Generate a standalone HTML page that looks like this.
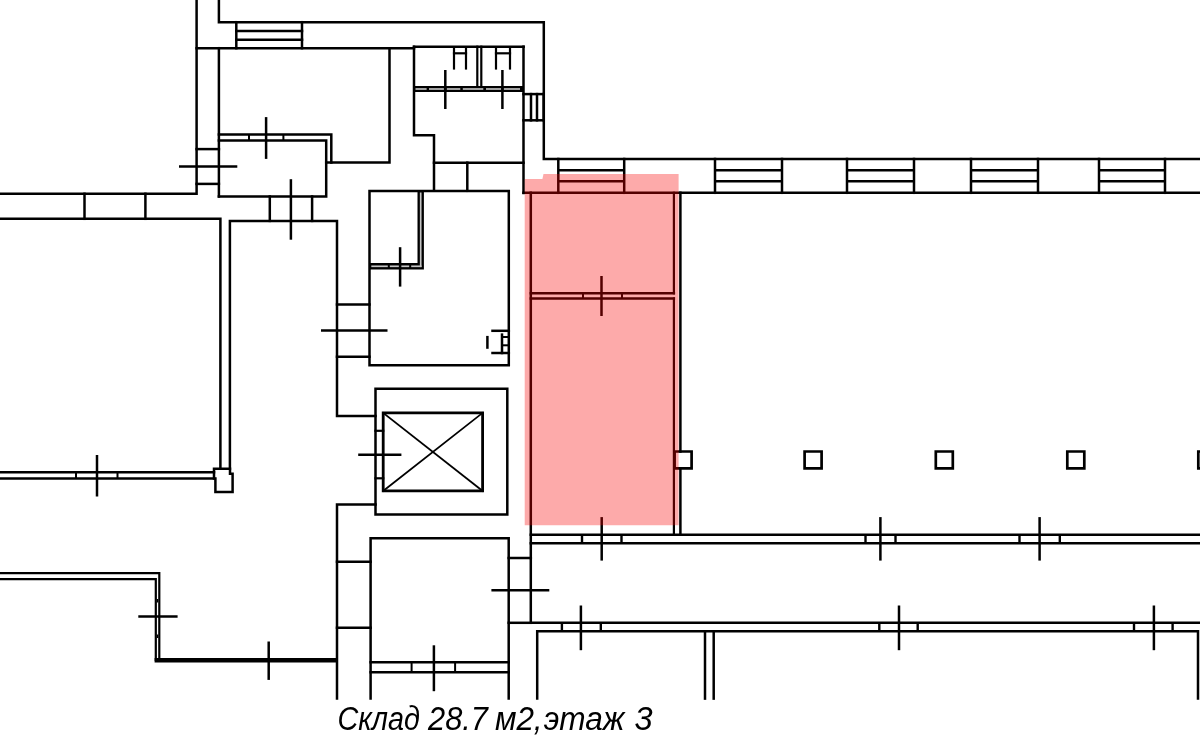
<!DOCTYPE html>
<html><head><meta charset="utf-8"><style>
html,body{margin:0;padding:0;background:#fff;}
body{width:1200px;height:745px;overflow:hidden;position:relative;}
svg{position:absolute;left:0;top:0;}
</style></head><body>
<svg width="1200" height="745" viewBox="0 0 1200 745" stroke-linecap="square" stroke-linejoin="miter">
<path d="M0,193.8 L196.6,193.8 L196.6,-3" stroke="#000" stroke-width="2.5" fill="none"/>
<path d="M218.9,-3 L218.9,22.2 L543.8,22.2 L543.8,159 L1203,159" stroke="#000" stroke-width="2.5" fill="none"/>
<path d="M218.9,134.4 L331.3,134.4 L331.3,162.5" stroke="#000" stroke-width="2.5" fill="none"/>
<path d="M326.2,162.5 L389.5,162.5 L389.5,48.2" stroke="#000" stroke-width="2.5" fill="none"/>
<path d="M218.9,140.5 L326.2,140.5 L326.2,196.5 L218.9,196.5" stroke="#000" stroke-width="2.5" fill="none"/>
<path d="M0,218.8 L220.4,218.8 L220.4,468.8" stroke="#000" stroke-width="2.5" fill="none"/>
<path d="M229.9,468.8 L229.9,220.9 L337,220.9 L337,416.1 L375.5,416.1" stroke="#000" stroke-width="2.5" fill="none"/>
<path d="M414,46.7 L414,135.3 L434,135.3 L434,190.8" stroke="#000" stroke-width="2.5" fill="none"/>
<path d="M369.5,191.1 L508.8,191.1 L508.8,365.3 L369.5,365.3 L369.5,191.1" stroke="#000" stroke-width="2.5" fill="none"/>
<path d="M369.5,266.3 L420.7,266.3 L420.7,191.1" stroke="#000" stroke-width="6.4" fill="none" stroke-linecap="butt"/>
<path d="M375.5,388.8 L507.3,388.8 L507.3,514.4 L375.5,514.4 L375.5,388.8" stroke="#000" stroke-width="2.5" fill="none"/>
<path d="M383.2,412.9 L482.6,412.9 L482.6,490.9 L383.2,490.9 L383.2,412.9" stroke="#000" stroke-width="2.8" fill="none"/>
<path d="M337,698.6 L337,504.6 L375.5,504.6" stroke="#000" stroke-width="2.5" fill="none"/>
<path d="M370.6,698.6 L370.6,538.3 L508.7,538.3 L508.7,698.6" stroke="#000" stroke-width="2.5" fill="none"/>
<path d="M508.7,558.1 L530.8,558.1 L530.8,622.8 L1203,622.8" stroke="#000" stroke-width="2.5" fill="none"/>
<path d="M537.2,698.6 L537.2,631.3 L1198,631.3 L1198,698.6" stroke="#000" stroke-width="2.5" fill="none"/>
<path d="M674.6,451.5 L691.6,451.5 L691.6,468.3 L674.6,468.3 L674.6,451.5" stroke="#000" stroke-width="2.7" fill="none"/>
<path d="M804.6,451.5 L821.6,451.5 L821.6,468.3 L804.6,468.3 L804.6,451.5" stroke="#000" stroke-width="2.7" fill="none"/>
<path d="M935.8,451.5 L952.8,451.5 L952.8,468.3 L935.8,468.3 L935.8,451.5" stroke="#000" stroke-width="2.7" fill="none"/>
<path d="M1067.3,451.5 L1084.3,451.5 L1084.3,468.3 L1067.3,468.3 L1067.3,451.5" stroke="#000" stroke-width="2.7" fill="none"/>
<path d="M1198.3,451.5 L1215.3,451.5 L1215.3,468.3 L1198.3,468.3 L1198.3,451.5" stroke="#000" stroke-width="2.7" fill="none"/>
<path d="M214,468.8 L230,468.8 L230,473.7 L232.6,473.7 L232.6,492.1 L215.4,492.1 L215.4,478.6 L214,478.6 L214,468.8" stroke="#000" stroke-width="2.5" fill="none"/>
<path d="M0,573.1 L159.3,573.1 L159.3,658" stroke="#000" stroke-width="2.2" fill="none"/>
<path d="M0,579.2 L155.8,579.2 L155.8,660" stroke="#000" stroke-width="2.2" fill="none"/>
<line x1="196.6" y1="48.2" x2="414" y2="48.2" stroke="#000" stroke-width="2.5"/>
<line x1="236.3" y1="22.2" x2="236.3" y2="48.2" stroke="#000" stroke-width="2.5"/>
<line x1="302" y1="22.2" x2="302" y2="48.2" stroke="#000" stroke-width="2.5"/>
<line x1="236.3" y1="31.1" x2="302" y2="31.1" stroke="#000" stroke-width="2.5"/>
<line x1="236.3" y1="39.8" x2="302" y2="39.8" stroke="#000" stroke-width="2.5"/>
<line x1="218.9" y1="48.2" x2="218.9" y2="196.5" stroke="#000" stroke-width="2.5"/>
<line x1="196.6" y1="149.1" x2="218.9" y2="149.1" stroke="#000" stroke-width="2.5"/>
<line x1="196.6" y1="183.9" x2="218.9" y2="183.9" stroke="#000" stroke-width="2.5"/>
<line x1="249" y1="134.4" x2="249" y2="140.5" stroke="#000" stroke-width="2" stroke-linecap="butt"/>
<line x1="283.4" y1="134.4" x2="283.4" y2="140.5" stroke="#000" stroke-width="2" stroke-linecap="butt"/>
<line x1="179" y1="166.4" x2="237.3" y2="166.4" stroke="#000" stroke-width="2.5" stroke-linecap="butt"/>
<line x1="266.1" y1="117.1" x2="266.1" y2="158.9" stroke="#000" stroke-width="2.5" stroke-linecap="butt"/>
<line x1="290.9" y1="179.2" x2="290.9" y2="239.7" stroke="#000" stroke-width="2.5" stroke-linecap="butt"/>
<line x1="269.8" y1="196.5" x2="269.8" y2="220.9" stroke="#000" stroke-width="2.5"/>
<line x1="312.1" y1="196.5" x2="312.1" y2="220.9" stroke="#000" stroke-width="2.5"/>
<line x1="84.5" y1="193.8" x2="84.5" y2="218.8" stroke="#000" stroke-width="2.5"/>
<line x1="145.4" y1="193.8" x2="145.4" y2="218.8" stroke="#000" stroke-width="2.5"/>
<line x1="414" y1="46.7" x2="523.6" y2="46.7" stroke="#000" stroke-width="2.5"/>
<line x1="523.5" y1="46.7" x2="523.5" y2="193" stroke="#000" stroke-width="2.5"/>
<line x1="434" y1="162.7" x2="523.5" y2="162.7" stroke="#000" stroke-width="2.5"/>
<line x1="467.3" y1="162.7" x2="467.3" y2="190.8" stroke="#000" stroke-width="2.5"/>
<line x1="477.3" y1="46.7" x2="477.3" y2="86.8" stroke="#000" stroke-width="2.2"/>
<line x1="481.3" y1="46.7" x2="481.3" y2="86.8" stroke="#000" stroke-width="2.2"/>
<line x1="414" y1="89" x2="523.6" y2="89" stroke="#000" stroke-width="6.2" stroke-linecap="butt"/>
<line x1="415.5" y1="89" x2="426.6" y2="89" stroke="#b4b4b4" stroke-width="1.8" stroke-linecap="butt"/>
<line x1="429" y1="89" x2="443.9" y2="89" stroke="#b4b4b4" stroke-width="1.8" stroke-linecap="butt"/>
<line x1="446.7" y1="89" x2="460.3" y2="89" stroke="#b4b4b4" stroke-width="1.8" stroke-linecap="butt"/>
<line x1="462.8" y1="89" x2="483.3" y2="89" stroke="#b4b4b4" stroke-width="1.8" stroke-linecap="butt"/>
<line x1="486" y1="89" x2="501.2" y2="89" stroke="#b4b4b4" stroke-width="1.8" stroke-linecap="butt"/>
<line x1="503.7" y1="89" x2="520" y2="89" stroke="#b4b4b4" stroke-width="1.8" stroke-linecap="butt"/>
<line x1="454" y1="48" x2="454" y2="68.5" stroke="#000" stroke-width="2.2"/>
<line x1="466" y1="48" x2="466" y2="68.5" stroke="#000" stroke-width="2.2"/>
<line x1="454" y1="53.3" x2="466" y2="53.3" stroke="#000" stroke-width="2.2"/>
<line x1="496" y1="48" x2="496" y2="68.5" stroke="#000" stroke-width="2.2"/>
<line x1="510" y1="48" x2="510" y2="68.5" stroke="#000" stroke-width="2.2"/>
<line x1="496" y1="53.3" x2="510" y2="53.3" stroke="#000" stroke-width="2.2"/>
<line x1="445.3" y1="70" x2="445.3" y2="109" stroke="#000" stroke-width="2.5" stroke-linecap="butt"/>
<line x1="502.4" y1="70" x2="502.4" y2="109" stroke="#000" stroke-width="2.5" stroke-linecap="butt"/>
<line x1="543.7" y1="94" x2="543.7" y2="120.3" stroke="#000" stroke-width="2.5"/>
<line x1="523.5" y1="94.1" x2="543.7" y2="94.1" stroke="#000" stroke-width="2.5"/>
<line x1="523.5" y1="120.3" x2="543.7" y2="120.3" stroke="#000" stroke-width="2.5"/>
<line x1="531" y1="94.1" x2="531" y2="120.3" stroke="#000" stroke-width="2.5"/>
<line x1="537" y1="94.1" x2="537" y2="120.3" stroke="#000" stroke-width="2.5"/>
<line x1="523.5" y1="192.8" x2="1203" y2="192.8" stroke="#000" stroke-width="2.5"/>
<line x1="558.3" y1="159" x2="558.3" y2="192.8" stroke="#000" stroke-width="2.5"/>
<line x1="624.2" y1="159" x2="624.2" y2="192.8" stroke="#000" stroke-width="2.5"/>
<line x1="558.3" y1="170.3" x2="624.2" y2="170.3" stroke="#000" stroke-width="2.5" stroke-linecap="butt"/>
<line x1="558.3" y1="181.2" x2="624.2" y2="181.2" stroke="#000" stroke-width="2.5" stroke-linecap="butt"/>
<line x1="715" y1="159" x2="715" y2="192.8" stroke="#000" stroke-width="2.5"/>
<line x1="782" y1="159" x2="782" y2="192.8" stroke="#000" stroke-width="2.5"/>
<line x1="715" y1="170.3" x2="782" y2="170.3" stroke="#000" stroke-width="2.5" stroke-linecap="butt"/>
<line x1="715" y1="181.2" x2="782" y2="181.2" stroke="#000" stroke-width="2.5" stroke-linecap="butt"/>
<line x1="847" y1="159" x2="847" y2="192.8" stroke="#000" stroke-width="2.5"/>
<line x1="914" y1="159" x2="914" y2="192.8" stroke="#000" stroke-width="2.5"/>
<line x1="847" y1="170.3" x2="914" y2="170.3" stroke="#000" stroke-width="2.5" stroke-linecap="butt"/>
<line x1="847" y1="181.2" x2="914" y2="181.2" stroke="#000" stroke-width="2.5" stroke-linecap="butt"/>
<line x1="971" y1="159" x2="971" y2="192.8" stroke="#000" stroke-width="2.5"/>
<line x1="1038" y1="159" x2="1038" y2="192.8" stroke="#000" stroke-width="2.5"/>
<line x1="971" y1="170.3" x2="1038" y2="170.3" stroke="#000" stroke-width="2.5" stroke-linecap="butt"/>
<line x1="971" y1="181.2" x2="1038" y2="181.2" stroke="#000" stroke-width="2.5" stroke-linecap="butt"/>
<line x1="1099" y1="159" x2="1099" y2="192.8" stroke="#000" stroke-width="2.5"/>
<line x1="1165" y1="159" x2="1165" y2="192.8" stroke="#000" stroke-width="2.5"/>
<line x1="1099" y1="170.3" x2="1165" y2="170.3" stroke="#000" stroke-width="2.5" stroke-linecap="butt"/>
<line x1="1099" y1="181.2" x2="1165" y2="181.2" stroke="#000" stroke-width="2.5" stroke-linecap="butt"/>
<line x1="371.3" y1="266.3" x2="387.8" y2="266.3" stroke="#c4c4c4" stroke-width="1.7" stroke-linecap="butt"/>
<line x1="389.8" y1="266.3" x2="409.2" y2="266.3" stroke="#c4c4c4" stroke-width="1.7" stroke-linecap="butt"/>
<line x1="411.2" y1="266.3" x2="421.5" y2="266.3" stroke="#c4c4c4" stroke-width="1.7" stroke-linecap="butt"/>
<line x1="420.7" y1="192.5" x2="420.7" y2="267.1" stroke="#c4c4c4" stroke-width="1.7" stroke-linecap="butt"/>
<line x1="400.1" y1="247.2" x2="400.1" y2="286.6" stroke="#000" stroke-width="2.5" stroke-linecap="butt"/>
<line x1="337" y1="304.4" x2="369.5" y2="304.4" stroke="#000" stroke-width="2.5"/>
<line x1="337" y1="356.8" x2="369.5" y2="356.8" stroke="#000" stroke-width="2.5"/>
<line x1="321" y1="330.6" x2="387.5" y2="330.6" stroke="#000" stroke-width="2.5" stroke-linecap="butt"/>
<line x1="492.5" y1="330.8" x2="508.8" y2="330.8" stroke="#000" stroke-width="2.5"/>
<line x1="492.5" y1="353" x2="508.8" y2="353" stroke="#000" stroke-width="2.5"/>
<line x1="502" y1="334.6" x2="502" y2="353" stroke="#000" stroke-width="2.5"/>
<line x1="502" y1="337" x2="508.8" y2="337" stroke="#000" stroke-width="2"/>
<line x1="502" y1="345.3" x2="508.8" y2="345.3" stroke="#000" stroke-width="2"/>
<line x1="487.4" y1="335.9" x2="487.4" y2="348.8" stroke="#000" stroke-width="2.5" stroke-linecap="butt"/>
<line x1="383.2" y1="412.9" x2="482.6" y2="490.9" stroke="#000" stroke-width="1.8"/>
<line x1="482.6" y1="412.9" x2="383.2" y2="490.9" stroke="#000" stroke-width="1.8"/>
<line x1="375.5" y1="430.8" x2="383.2" y2="430.8" stroke="#000" stroke-width="2.2"/>
<line x1="375.5" y1="478.3" x2="383.2" y2="478.3" stroke="#000" stroke-width="2.2"/>
<line x1="358.2" y1="454.8" x2="401.4" y2="454.8" stroke="#000" stroke-width="2.5" stroke-linecap="butt"/>
<line x1="337" y1="561.7" x2="370.6" y2="561.7" stroke="#000" stroke-width="2.5"/>
<line x1="337" y1="627.7" x2="370.6" y2="627.7" stroke="#000" stroke-width="2.5"/>
<line x1="370.6" y1="662.2" x2="508.7" y2="662.2" stroke="#000" stroke-width="2.5"/>
<line x1="370.6" y1="672.3" x2="508.7" y2="672.3" stroke="#000" stroke-width="2.5"/>
<line x1="411.6" y1="662.2" x2="411.6" y2="672.3" stroke="#000" stroke-width="2" stroke-linecap="butt"/>
<line x1="455.1" y1="662.2" x2="455.1" y2="672.3" stroke="#000" stroke-width="2" stroke-linecap="butt"/>
<line x1="433.9" y1="645.3" x2="433.9" y2="691.2" stroke="#000" stroke-width="2.5" stroke-linecap="butt"/>
<line x1="508.7" y1="622.8" x2="530.8" y2="622.8" stroke="#000" stroke-width="2.5"/>
<line x1="530.8" y1="192.8" x2="530.8" y2="558.1" stroke="#000" stroke-width="2.5"/>
<line x1="561.9" y1="622.8" x2="561.9" y2="631.3" stroke="#000" stroke-width="2.4" stroke-linecap="butt"/>
<line x1="600.8" y1="622.8" x2="600.8" y2="631.3" stroke="#000" stroke-width="2.4" stroke-linecap="butt"/>
<line x1="879.3" y1="622.8" x2="879.3" y2="631.3" stroke="#000" stroke-width="2.4" stroke-linecap="butt"/>
<line x1="917.7" y1="622.8" x2="917.7" y2="631.3" stroke="#000" stroke-width="2.4" stroke-linecap="butt"/>
<line x1="1134" y1="622.8" x2="1134" y2="631.3" stroke="#000" stroke-width="2.4" stroke-linecap="butt"/>
<line x1="1172.6" y1="622.8" x2="1172.6" y2="631.3" stroke="#000" stroke-width="2.4" stroke-linecap="butt"/>
<line x1="491.4" y1="590.2" x2="549.3" y2="590.2" stroke="#000" stroke-width="2.5" stroke-linecap="butt"/>
<line x1="580.9" y1="605.5" x2="580.9" y2="650.2" stroke="#000" stroke-width="2.5" stroke-linecap="butt"/>
<line x1="899" y1="605.5" x2="899" y2="650.2" stroke="#000" stroke-width="2.5" stroke-linecap="butt"/>
<line x1="1153.9" y1="605.5" x2="1153.9" y2="650.2" stroke="#000" stroke-width="2.5" stroke-linecap="butt"/>
<line x1="705" y1="631.3" x2="705" y2="698.6" stroke="#000" stroke-width="2.5"/>
<line x1="713.7" y1="631.3" x2="713.7" y2="698.6" stroke="#000" stroke-width="2.5"/>
<line x1="530.8" y1="534.7" x2="1203" y2="534.7" stroke="#000" stroke-width="2.5"/>
<line x1="530.8" y1="543.2" x2="1203" y2="543.2" stroke="#000" stroke-width="2.5"/>
<line x1="582" y1="534.7" x2="582" y2="543.2" stroke="#000" stroke-width="2.4" stroke-linecap="butt"/>
<line x1="621.5" y1="534.7" x2="621.5" y2="543.2" stroke="#000" stroke-width="2.4" stroke-linecap="butt"/>
<line x1="865.5" y1="534.7" x2="865.5" y2="543.2" stroke="#000" stroke-width="2.4" stroke-linecap="butt"/>
<line x1="895.5" y1="534.7" x2="895.5" y2="543.2" stroke="#000" stroke-width="2.4" stroke-linecap="butt"/>
<line x1="1019.5" y1="534.7" x2="1019.5" y2="543.2" stroke="#000" stroke-width="2.4" stroke-linecap="butt"/>
<line x1="1059.8" y1="534.7" x2="1059.8" y2="543.2" stroke="#000" stroke-width="2.4" stroke-linecap="butt"/>
<line x1="601.7" y1="517.1" x2="601.7" y2="560.6" stroke="#000" stroke-width="2.5" stroke-linecap="butt"/>
<line x1="880.4" y1="517.1" x2="880.4" y2="560.6" stroke="#000" stroke-width="2.5" stroke-linecap="butt"/>
<line x1="1039.6" y1="517.1" x2="1039.6" y2="560.6" stroke="#000" stroke-width="2.5" stroke-linecap="butt"/>
<line x1="673.9" y1="192.8" x2="673.9" y2="293.3" stroke="#000" stroke-width="2.2"/>
<line x1="673.9" y1="298.5" x2="673.9" y2="534.7" stroke="#000" stroke-width="2.2"/>
<line x1="530.8" y1="293.3" x2="673.9" y2="293.3" stroke="#000" stroke-width="2.4"/>
<line x1="530.8" y1="298.5" x2="673.9" y2="298.5" stroke="#000" stroke-width="2.4"/>
<line x1="583" y1="293.3" x2="583" y2="298.5" stroke="#000" stroke-width="2" stroke-linecap="butt"/>
<line x1="622" y1="293.3" x2="622" y2="298.5" stroke="#000" stroke-width="2" stroke-linecap="butt"/>
<line x1="601.5" y1="276" x2="601.5" y2="316" stroke="#000" stroke-width="2.5" stroke-linecap="butt"/>
<line x1="680.4" y1="192.8" x2="680.4" y2="451.5" stroke="#000" stroke-width="2.5"/>
<line x1="680.4" y1="468.3" x2="680.4" y2="534.7" stroke="#000" stroke-width="2.5"/>
<line x1="0" y1="472.2" x2="214" y2="472.2" stroke="#000" stroke-width="2.5"/>
<line x1="0" y1="478.6" x2="214" y2="478.6" stroke="#000" stroke-width="2.5"/>
<line x1="76" y1="472.2" x2="76" y2="478.6" stroke="#000" stroke-width="2" stroke-linecap="butt"/>
<line x1="117.5" y1="472.2" x2="117.5" y2="478.6" stroke="#000" stroke-width="2" stroke-linecap="butt"/>
<line x1="97" y1="455" x2="97" y2="496.5" stroke="#000" stroke-width="2.5" stroke-linecap="butt"/>
<line x1="154.6" y1="660.2" x2="337" y2="660.2" stroke="#000" stroke-width="4.5" stroke-linecap="butt"/>
<line x1="157.5" y1="599" x2="157.5" y2="602.5" stroke="#000" stroke-width="1.4" stroke-linecap="butt"/>
<line x1="157.5" y1="634.5" x2="157.5" y2="638" stroke="#000" stroke-width="1.4" stroke-linecap="butt"/>
<line x1="138.3" y1="616.4" x2="177.6" y2="616.4" stroke="#000" stroke-width="2.5" stroke-linecap="butt"/>
<line x1="268.7" y1="641.5" x2="268.7" y2="679.9" stroke="#000" stroke-width="2.5" stroke-linecap="butt"/>
<polygon points="524.7,179.1 542.4,179.1 543.5,174.1 678.6,174.1 678.6,525.3 524.7,525.3" fill="rgba(248,0,0,0.335)" stroke="none"/>
</svg>
<svg width="1200" height="745" viewBox="0 0 1200 745" style="will-change:transform">
<text transform="translate(337.51,729.8) scale(0.8463,1)" font-family="Liberation Sans, sans-serif" font-style="italic" font-size="34" fill="#000" stroke="none">Склад</text>
<text transform="translate(428.09,729.8) scale(0.9053,1)" font-family="Liberation Sans, sans-serif" font-style="italic" font-size="34" fill="#000" stroke="none">28.7</text>
<text transform="translate(494.88,729.8) scale(0.9239,1)" font-family="Liberation Sans, sans-serif" font-style="italic" font-size="34" fill="#000" stroke="none">м2,</text>
<text transform="translate(543.67,729.8) scale(0.9302,1)" font-family="Liberation Sans, sans-serif" font-style="italic" font-size="34" fill="#000" stroke="none">этаж</text>
<text transform="translate(634.44,729.8) scale(0.9588,1)" font-family="Liberation Sans, sans-serif" font-style="italic" font-size="34" fill="#000" stroke="none">3</text>
</svg>

</body></html>
